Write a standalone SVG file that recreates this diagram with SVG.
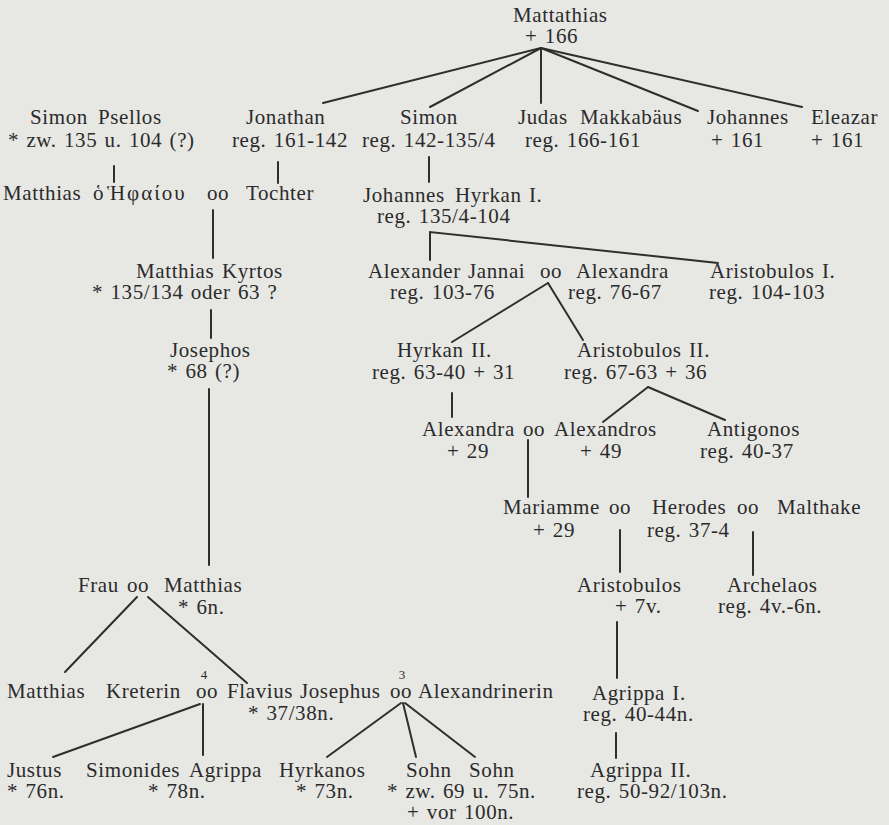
<svg xmlns="http://www.w3.org/2000/svg" width="889" height="825" viewBox="0 0 889 825">
<style>
text{font-family:"Liberation Serif","Times New Roman",serif;font-size:21px;fill:#2b2b2b;word-spacing:1.5px;letter-spacing:0.6px}
.sm{font-size:13px;letter-spacing:0}
.gr{letter-spacing:2px}
.c line,.c polyline{stroke:#2e2e2e;stroke-width:2;fill:none;stroke-linecap:round}
</style>
<rect width="889" height="825" fill="#e7e7e4"/>
<g class="c" id="connectors">
<line x1="541" y1="48" x2="323" y2="103"/>
<line x1="541" y1="48" x2="430" y2="107"/>
<line x1="541" y1="48" x2="541" y2="103"/>
<line x1="541" y1="48" x2="698" y2="111"/>
<line x1="541" y1="48" x2="802" y2="107"/>
<line x1="114" y1="166" x2="114" y2="182"/>
<line x1="278" y1="162" x2="278" y2="183"/>
<line x1="429" y1="157" x2="429" y2="182"/>
<polyline points="430,260 430,232 718,263"/>
<line x1="213" y1="210" x2="213" y2="258"/>
<line x1="211" y1="310" x2="211" y2="338"/>
<line x1="209" y1="389" x2="209" y2="565"/>
<line x1="548" y1="283" x2="452" y2="342"/>
<line x1="548" y1="283" x2="583" y2="340"/>
<line x1="452" y1="393" x2="452" y2="417"/>
<line x1="648" y1="387" x2="603" y2="422"/>
<line x1="648" y1="387" x2="725" y2="420"/>
<line x1="528" y1="440" x2="528" y2="497"/>
<line x1="620" y1="530" x2="620" y2="572"/>
<line x1="753" y1="532" x2="753" y2="575"/>
<line x1="617" y1="622" x2="617" y2="678"/>
<line x1="137" y1="597" x2="65" y2="672"/>
<line x1="148" y1="597" x2="247" y2="683"/>
<line x1="200" y1="704" x2="53" y2="757"/>
<line x1="203" y1="704" x2="203" y2="755"/>
<line x1="401" y1="703" x2="327" y2="757"/>
<line x1="403" y1="703" x2="416" y2="757"/>
<line x1="405" y1="703" x2="475" y2="757"/>
<line x1="616" y1="733" x2="616" y2="758"/>
</g>
<g id="mattathias"><text x="513" y="22">Mattathias</text><text x="525" y="43">+ 166</text></g>
<g id="simon-psellos"><text x="30" y="124">Simon</text><text x="98" y="124">Psellos</text><text x="8" y="147">* zw. 135 u. 104 (?)</text></g>
<g id="jonathan"><text x="246" y="124">Jonathan</text><text x="232" y="147">reg. 161-142</text></g>
<g id="simon"><text x="400" y="124">Simon</text><text x="362" y="147">reg. 142-135/4</text></g>
<g id="judas"><text x="518" y="124">Judas</text><text x="580" y="124">Makkabäus</text><text x="525" y="147">reg. 166-161</text></g>
<g id="johannes"><text x="707" y="124">Johannes</text><text x="711" y="147">+ 161</text></g>
<g id="eleazar"><text x="811" y="124">Eleazar</text><text x="811" y="147">+ 161</text></g>
<g id="matthias-ephaiou"><text x="3" y="200">Matthias</text><text x="93" y="200">ὁ</text><text class="gr" x="107" y="200">Ἡφαίου</text><text x="207" y="200">oo</text></g>
<g id="tochter"><text x="246" y="200">Tochter</text></g>
<g id="johannes-hyrkan"><text x="363" y="202">Johannes</text><text x="455" y="202">Hyrkan I.</text><text x="377" y="223">reg. 135/4-104</text></g>
<g id="matthias-kyrtos"><text x="136" y="278">Matthias</text><text x="222" y="278">Kyrtos</text><text x="92" y="299">* 135/134 oder 63 ?</text></g>
<g id="alexander-jannai"><text x="368" y="278">Alexander</text><text x="468" y="278">Jannai</text><text x="540" y="278">oo</text><text x="390" y="299">reg. 103-76</text></g>
<g id="alexandra-1"><text x="576" y="278">Alexandra</text><text x="568" y="299">reg. 76-67</text></g>
<g id="aristobulos-1"><text x="710" y="278">Aristobulos I.</text><text x="709" y="299">reg. 104-103</text></g>
<g id="josephos"><text x="170" y="357">Josephos</text><text x="167" y="378">* 68 (?)</text></g>
<g id="hyrkan-2"><text x="397" y="357">Hyrkan II.</text><text x="372" y="379">reg. 63-40 + 31</text></g>
<g id="aristobulos-2"><text x="577" y="357">Aristobulos II.</text><text x="564" y="379">reg. 67-63 + 36</text></g>
<g id="alexandra-2"><text x="422" y="436">Alexandra</text><text x="523" y="436">oo</text><text x="447" y="458">+ 29</text></g>
<g id="alexandros"><text x="554" y="436">Alexandros</text><text x="580" y="458">+ 49</text></g>
<g id="antigonos"><text x="707" y="436">Antigonos</text><text x="700" y="458">reg. 40-37</text></g>
<g id="mariamme"><text x="503" y="514">Mariamme</text><text x="609" y="514">oo</text><text x="533" y="537">+ 29</text></g>
<g id="herodes"><text x="652" y="514">Herodes</text><text x="737" y="514">oo</text><text x="647" y="537">reg. 37-4</text></g>
<g id="malthake"><text x="777" y="514">Malthake</text></g>
<g id="aristobulos"><text x="577" y="592">Aristobulos</text><text x="615" y="613">+ 7v.</text></g>
<g id="archelaos"><text x="727" y="592">Archelaos</text><text x="718" y="613">reg. 4v.-6n.</text></g>
<g id="frau"><text x="78" y="592">Frau</text><text x="127" y="592">oo</text></g>
<g id="matthias-6n"><text x="164" y="592">Matthias</text><text x="178" y="614">* 6n.</text></g>
<g id="matthias-son"><text x="7" y="698">Matthias</text></g>
<g id="kreterin"><text x="106" y="698">Kreterin</text><text x="196" y="698">oo</text><text class="sm" x="204" y="679" text-anchor="middle">4</text></g>
<g id="flavius-josephus"><text x="227" y="698">Flavius</text><text x="300" y="698">Josephus</text><text x="390" y="698">oo</text><text class="sm" x="402" y="679" text-anchor="middle">3</text><text x="248" y="720">* 37/38n.</text></g>
<g id="alexandrinerin"><text x="418" y="698">Alexandrinerin</text></g>
<g id="agrippa-1"><text x="592" y="700">Agrippa I.</text><text x="583" y="721">reg. 40-44n.</text></g>
<g id="justus"><text x="7" y="777">Justus</text><text x="7" y="798">* 76n.</text></g>
<g id="simonides"><text x="86" y="777">Simonides</text></g>
<g id="agrippa"><text x="189" y="777">Agrippa</text><text x="148" y="798">* 78n.</text></g>
<g id="hyrkanos"><text x="279" y="777">Hyrkanos</text><text x="296" y="798">* 73n.</text></g>
<g id="sohn1"><text x="406" y="777">Sohn</text></g>
<g id="sohn2"><text x="469" y="777">Sohn</text><text x="387" y="798">* zw. 69 u. 75n.</text><text x="407" y="819">+ vor 100n.</text></g>
<g id="agrippa-2"><text x="590" y="777">Agrippa II.</text><text x="577" y="798">reg. 50-92/103n.</text></g>
</svg>
